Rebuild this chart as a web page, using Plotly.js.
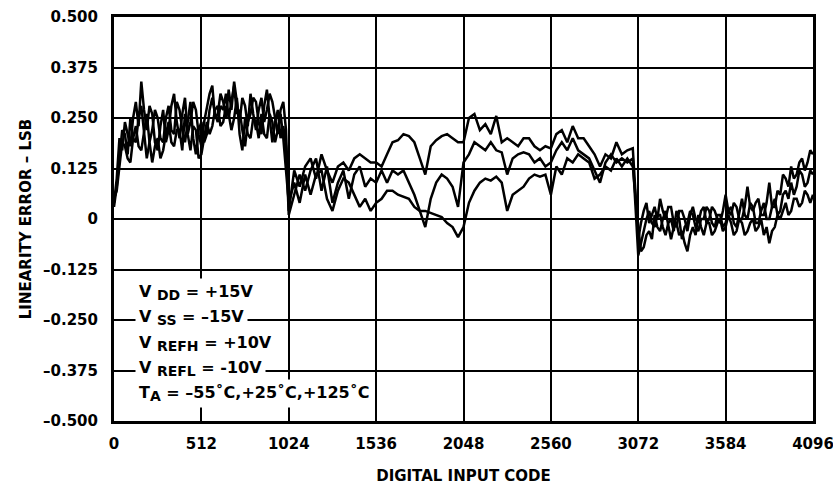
<!DOCTYPE html>
<html><head><meta charset="utf-8">
<script src="https://cdn.plot.ly/plotly-3.0.1.min.js"></script>
<style>html,body{margin:0;padding:0;background:#fff}#chart{width:833px;height:485px}</style>
</head><body><div id="chart"></div>
<script>
const codes = [
  0,16,32,48,64,80,96,112,128,144,160,176,192,208,224,240,
  256,272,288,304,320,336,352,368,384,400,416,432,448,464,480,496,
  512,528,544,560,576,592,608,624,640,656,672,688,704,720,736,752,
  768,784,800,816,832,848,864,880,896,912,928,944,960,976,992,1008,
  1024,1056,1088,1120,1152,1184,1216,1248,1280,1312,1344,1376,1408,1440,1472,1504,
  1536,1568,1600,1632,1664,1696,1728,1760,1792,1824,1856,1888,1920,1952,1984,2016,
  2048,2080,2112,2144,2176,2208,2240,2272,2304,2336,2368,2400,2432,2464,2496,2528,
  2560,2592,2624,2656,2688,2720,2752,2784,2816,2848,2880,2912,2944,2976,3008,3040,
  3072,3088,3104,3120,3136,3152,3168,3184,3200,3216,3232,3248,3264,3280,3296,3312,
  3328,3344,3360,3376,3392,3408,3424,3440,3456,3472,3488,3504,3520,3536,3552,3568,
  3584,3600,3616,3632,3648,3664,3680,3696,3712,3728,3744,3760,3776,3792,3808,3824,
  3840,3856,3872,3888,3904,3920,3936,3952,3968,3984,4000,4016,4032,4048,4064,4080,4096
];
const errTa1 = [
  0.04,0.10,0.20,0.17,0.24,0.21,0.18,0.25,0.29,0.23,0.34,0.27,0.22,0.28,0.26,0.19,
  0.17,0.23,0.27,0.19,0.22,0.28,0.31,0.24,0.20,0.26,0.30,0.21,0.24,0.29,0.27,0.21,
  0.18,0.24,0.28,0.31,0.33,0.25,0.26,0.31,0.29,0.25,0.32,0.27,0.34,0.29,0.24,0.30,
  0.28,0.23,0.31,0.26,0.22,0.27,0.30,0.24,0.27,0.31,0.29,0.25,0.21,0.27,0.29,0.22,
  0.02,0.12,0.08,0.13,0.15,0.10,0.16,0.12,0.09,0.13,0.14,0.12,0.15,0.16,0.15,0.14,
  0.14,0.13,0.16,0.19,0.195,0.21,0.205,0.19,0.15,0.11,0.18,0.195,0.205,0.21,0.20,0.19,
  0.19,0.25,0.26,0.22,0.235,0.21,0.255,0.19,0.20,0.19,0.18,0.20,0.20,0.18,0.17,0.18,
  0.175,0.21,0.22,0.19,0.23,0.20,0.20,0.18,0.16,0.13,0.16,0.15,0.19,0.16,0.17,0.175,
  -0.05,-0.01,0.02,0.04,-0.01,0.01,0.03,0.00,0.05,0.02,0.00,0.03,0.03,-0.01,-0.02,0.02,
  0.02,0.00,-0.03,0.01,0.03,0.00,-0.01,0.02,0.03,-0.01,0.00,0.03,0.02,0.00,-0.01,0.02,
  0.06,0.02,0.01,0.04,0.03,0.00,0.00,0.03,0.08,0.03,0.02,0.04,0.05,0.01,0.01,0.04,
  0.09,0.03,0.03,0.07,0.06,0.11,0.10,0.08,0.13,0.10,0.11,0.14,0.15,0.12,0.14,0.17,0.16
];
const errTa2 = [
  0.03,0.08,0.15,0.22,0.21,0.16,0.25,0.20,0.19,0.25,0.28,0.21,0.15,0.19,0.22,0.27,
  0.25,0.20,0.19,0.25,0.28,0.22,0.21,0.29,0.27,0.22,0.19,0.24,0.29,0.20,0.16,0.22,
  0.24,0.19,0.21,0.27,0.30,0.26,0.24,0.28,0.27,0.31,0.25,0.29,0.33,0.26,0.27,0.22,
  0.18,0.24,0.26,0.30,0.29,0.24,0.21,0.28,0.32,0.25,0.19,0.24,0.27,0.20,0.23,0.18,
  0.01,0.06,0.11,0.07,0.12,0.15,0.07,0.13,0.04,0.09,0.12,0.05,0.11,0.13,0.08,0.10,
  0.09,0.12,0.09,0.12,0.11,0.12,0.09,0.06,0.02,-0.02,0.05,0.09,0.11,0.10,0.08,0.03,
  0.14,0.16,0.19,0.18,0.17,0.19,0.17,0.165,0.11,0.15,0.16,0.165,0.16,0.14,0.15,0.13,
  0.14,0.17,0.19,0.17,0.20,0.17,0.16,0.15,0.12,0.09,0.14,0.16,0.14,0.15,0.14,0.15,
  -0.09,-0.06,-0.03,0.00,0.02,-0.01,-0.02,0.01,0.01,-0.02,-0.04,-0.01,0.00,-0.03,0.02,0.00,
  -0.05,-0.02,-0.01,0.02,0.01,-0.02,-0.03,0.00,0.00,0.03,0.02,-0.01,-0.02,0.01,0.01,-0.02,
  -0.01,0.02,0.03,-0.01,-0.02,0.02,0.05,0.01,0.00,0.04,0.03,-0.01,-0.01,0.02,0.04,0.00,
  0.00,0.03,0.05,0.01,0.02,0.06,0.07,0.05,0.09,0.06,0.08,0.12,0.11,0.08,0.09,0.12,0.11
];
const errTa3 = [
  0.05,0.07,0.13,0.19,0.18,0.15,0.14,0.20,0.23,0.18,0.17,0.22,0.26,0.19,0.14,0.18,
  0.20,0.15,0.17,0.21,0.24,0.19,0.18,0.22,0.22,0.17,0.26,0.21,0.17,0.23,0.22,0.15,
  0.16,0.20,0.24,0.21,0.23,0.27,0.28,0.23,0.24,0.28,0.26,0.22,0.25,0.30,0.21,0.17,
  0.25,0.21,0.20,0.25,0.24,0.20,0.26,0.21,0.20,0.26,0.24,0.19,0.22,0.26,0.20,0.12,
  0.04,0.09,0.04,0.11,0.06,0.11,0.12,0.05,0.02,0.07,0.10,0.09,0.06,0.03,0.05,0.02,
  0.04,0.05,0.07,0.07,0.06,0.055,0.05,0.03,0.02,0.02,0.015,0.01,0.005,-0.01,-0.02,-0.045,
  -0.02,0.04,0.07,0.09,0.10,0.095,0.105,0.09,0.02,0.06,0.07,0.08,0.10,0.11,0.105,0.11,
  0.06,0.13,0.11,0.15,0.14,0.16,0.15,0.14,0.10,0.11,0.13,0.12,0.15,0.13,0.15,0.13,
  -0.02,-0.08,-0.07,-0.04,-0.03,-0.05,0.01,-0.02,-0.03,0.00,0.02,-0.02,-0.05,-0.02,-0.01,-0.04,
  -0.03,-0.06,-0.08,-0.04,-0.02,-0.04,0.01,-0.02,-0.04,-0.01,-0.01,-0.04,-0.03,-0.01,0.00,-0.03,
  -0.02,0.01,-0.01,-0.04,-0.03,0.00,-0.01,-0.04,-0.03,-0.01,0.00,-0.03,-0.02,0.00,-0.04,-0.02,
  -0.06,-0.03,-0.02,0.01,0.00,0.02,0.04,0.01,0.02,0.05,0.05,0.03,0.04,0.07,0.06,0.04,0.06
];
const seriesNames = ['T<sub>A</sub> = –55˚C','T<sub>A</sub> = +25˚C','T<sub>A</sub> = +125˚C'];
const xTickVals = [0,512,1024,1536,2048,2560,3072,3584,4096];
const xTickText = ['0','512','1024','1536','2048','2560','3072','3584','4096'];
const yTickVals = [-0.5,-0.375,-0.25,-0.125,0,0.125,0.25,0.375,0.5];
const yTickText = ['–0.500','–0.375','–0.250','–0.125','0','0.125','0.250','0.375','0.500'];
const subOpen = '<sub><span style="font-size:14px">';
const subClose = '</span></sub>';
const noteLines = [
  'V ' + subOpen + 'DD' + subClose + ' = +15V',
  'V ' + subOpen + 'SS' + subClose + ' = –15V',
  'V ' + subOpen + 'REFH' + subClose + ' = +10V',
  'V ' + subOpen + 'REFL' + subClose + ' = -10V',
  'T' + subOpen + 'A' + subClose + ' = –55˚C,+25˚C,+125˚C'
];
const noteY = [0.318, 0.255, 0.193, 0.129, 0.069];

const FONT = 'DejaVu Sans, Liberation Sans, Arial, sans-serif';
const allSeries = [errTa1, errTa2, errTa3];
const traces = allSeries.map((ys, k) => ({
  x: codes, y: ys, type: 'scatter', mode: 'lines', name: seriesNames[k],
  line: {color: '#000', width: 2.5}, hoverinfo: 'skip'
}));

const annotations = noteLines.map((t, k) => ({
  xref: 'paper', yref: 'paper', x: 0.03, y: noteY[k],
  xanchor: 'left', yanchor: 'middle', text: t, showarrow: false,
  bgcolor: '#fff', borderpad: 3,
  font: {family: FONT, size: 16, color: '#000', weight: 'bold'}
}));

const layout = {
  width: 833, height: 485,
  margin: {l: 114, r: 20, t: 17, b: 64},
  paper_bgcolor: '#fff', plot_bgcolor: '#fff',
  showlegend: false,
  font: {family: FONT, color: '#000'},
  xaxis: {
    range: [0, 4096], tickvals: xTickVals, ticktext: xTickText,
    showgrid: true, gridcolor: '#000', gridwidth: 2, zeroline: false,
    showline: true, linecolor: '#000', linewidth: 3, mirror: true,
    ticks: '', ticklabelstandoff: 7, ticklabeloverflow: 'allow',
    tickfont: {family: FONT, size: 15, color: '#000', weight: 'bold'},
    title: {text: 'DIGITAL INPUT CODE', standoff: 20,
      font: {family: FONT, size: 15, color: '#000', weight: 'bold'}},
    automargin: false, fixedrange: true
  },
  yaxis: {
    range: [-0.5, 0.5], tickvals: yTickVals, ticktext: yTickText,
    showgrid: true, gridcolor: '#000', gridwidth: 2, zeroline: false,
    showline: true, linecolor: '#000', linewidth: 3, mirror: true,
    ticks: '', ticklabelstandoff: 10,
    tickfont: {family: FONT, size: 15, color: '#000', weight: 'bold'},
    title: {text: 'LINEARITY ERROR – LSB', standoff: 8,
      font: {family: FONT, size: 15, color: '#000', weight: 'bold'}},
    automargin: false, fixedrange: true
  },
  annotations: annotations
};

Plotly.newPlot('chart', traces, layout, {displayModeBar: false, staticPlot: true});
</script>
</body></html>
